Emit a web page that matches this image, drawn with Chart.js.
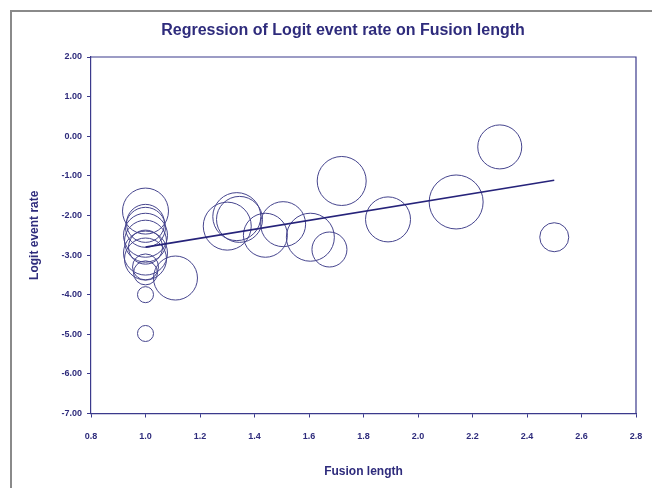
<!DOCTYPE html>
<html>
<head>
<meta charset="utf-8">
<script src="https://cdn.jsdelivr.net/npm/chart.js@4/dist/chart.umd.min.js"></script>
<style>
  html, body { margin: 0; padding: 0; background: #fff; overflow: hidden; }
  #wrap { position: relative; width: 652px; height: 488px; }
</style>
</head>
<body>
<div id="wrap"><canvas id="c"></canvas></div>
<script>
// --- DATA ---
const studyX = [1.0, 1.0, 1.0, 1.0, 1.0, 1.0, 1.0, 1.0, 1.0, 1.0, 1.0, 1.0,
                1.11, 1.30, 1.335, 1.345, 1.44, 1.505, 1.605, 1.675, 1.72, 1.89, 2.14, 2.30, 2.50];
const studyY = [-1.89, -2.20, -2.30, -2.50, -2.65, -2.80, -2.95, -3.10, -3.30, -3.45, -4.00, -4.98,
                -3.58, -2.27, -2.03, -2.10, -2.50, -2.22, -2.55, -2.86, -1.13, -2.10, -1.66, -0.27, -2.55];
const studyWeight = [23, 19, 20, 22, 21, 17, 22, 21, 13, 12, 8, 8,
                     22, 24, 24, 23, 22, 22.5, 24, 17.5, 24.5, 22.5, 27, 22, 14.5];
const fitX = [1.0, 2.5];
const fitY = [-2.80, -1.11];
const xTicks = [0.8, 1.0, 1.2, 1.4, 1.6, 1.8, 2.0, 2.2, 2.4, 2.6, 2.8];
const yTicks = [2, 1, 0, -1, -2, -3, -4, -5, -6, -7];
const chartTitle = 'Regression of Logit event rate on Fusion length';

const NAVY = '#2e2b7c';
const AXIS = '#3b3a8c';
const RING = '#46458e';
const FONT = 'Liberation Sans, Arial';

const framePlugin = {
    id: 'frame',
    beforeDraw(chart) {
        const ctx = chart.ctx;
        ctx.save();
        ctx.fillStyle = '#fff';
        ctx.fillRect(0, 0, chart.width, chart.height);
        ctx.strokeStyle = '#8a8a8a';
        ctx.lineWidth = 2;
        ctx.strokeRect(11, 11, 800, 600);
        ctx.restore();
    },
    afterDraw(chart) {
        const a = chart.chartArea, ctx = chart.ctx;
        ctx.save();
        // top and right edges of the plot box
        ctx.strokeStyle = AXIS; ctx.lineWidth = 1.2;
        ctx.beginPath();
        ctx.moveTo(a.left, a.top); ctx.lineTo(a.right, a.top); ctx.lineTo(a.right, a.bottom);
        ctx.stroke();
        // title
        ctx.fillStyle = NAVY;
        ctx.font = 'bold 16px ' + FONT;
        ctx.textAlign = 'center'; ctx.textBaseline = 'middle';
        ctx.fillText(chartTitle, 343, 31);
        ctx.restore();
    }
};

new Chart(document.getElementById('c').getContext('2d'), {
    type: 'bubble',
    data: {
        datasets: [
            {
                type: 'line',
                data: fitX.map((x, i) => ({ x: x, y: fitY[i] })),
                borderColor: '#26237a', borderWidth: 1.6, pointRadius: 0, fill: false, order: 0
            },
            {
                data: studyX.map((x, i) => ({ x: x, y: studyY[i], r: studyWeight[i] })),
                borderColor: RING, backgroundColor: 'rgba(0,0,0,0)', borderWidth: 1, order: 1
            }
        ]
    },
    options: {
        responsive: true, maintainAspectRatio: false, animation: false,
        layout: { autoPadding: false, padding: { left: 0, right: 16, top: 57, bottom: 0 } },
        plugins: { legend: { display: false }, tooltip: { enabled: false }, title: { display: false } },
        scales: {
            x: {
                type: 'linear', min: 0.8, max: 2.8,
                afterFit: s => { s.height = 74.5; s.paddingRight = 0; s.paddingLeft = 0; },
                afterBuildTicks: s => { s.ticks = xTicks.map(v => ({ value: v })); },
                border: { color: AXIS, width: 1.2 },
                grid: { drawOnChartArea: false, color: AXIS, tickLength: 4 },
                ticks: { color: NAVY, padding: 14, maxRotation: 0, callback: v => v.toFixed(1),
                         font: { family: FONT, size: 9, weight: 'bold' } },
                title: { display: true, text: 'Fusion length', color: NAVY, padding: { top: 0, bottom: 9 },
                         font: { family: FONT, size: 12, weight: 'bold' } }
            },
            y: {
                type: 'linear', min: -7, max: 2,
                afterFit: s => { s.width = 91; s.paddingTop = 0; s.paddingBottom = 0; },
                afterBuildTicks: s => { s.ticks = yTicks.map(v => ({ value: v })); },
                border: { color: AXIS, width: 1.2 },
                grid: { drawOnChartArea: false, color: AXIS, tickLength: 4 },
                ticks: { color: NAVY, padding: 5, callback: v => v.toFixed(2),
                         font: { family: FONT, size: 9, weight: 'bold' } },
                title: { display: true, text: 'Logit event rate', color: NAVY, padding: { top: 27, bottom: 0 },
                         font: { family: FONT, size: 12, weight: 'bold' } }
            }
        }
    },
    plugins: [framePlugin]
});
</script>
</body>
</html>
